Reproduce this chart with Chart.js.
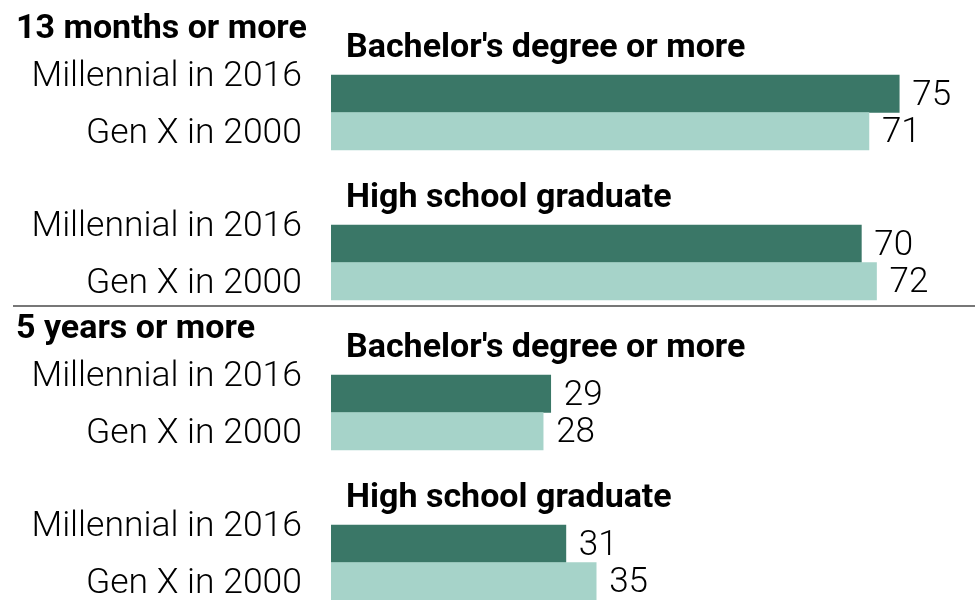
<!DOCTYPE html>
<html>
<head>
<meta charset="utf-8">
<script src="https://cdn.jsdelivr.net/npm/chart.js@4"></script>
<style>
  html, body { margin: 0; padding: 0; background: #fff; }
  #wrap { width: 975px; height: 600px; position: relative; }
</style>
</head>
<body>
<div id="wrap"><canvas id="chart"></canvas></div>
<script>
// 16 rows: two title rows, then two bar rows, per group
const rowLabels = [
    '', '', 'Millennial in 2016', 'Gen X in 2000',
    '', '', 'Millennial in 2016', 'Gen X in 2000',
    '', '', 'Millennial in 2016', 'Gen X in 2000',
    '', '', 'Millennial in 2016', 'Gen X in 2000'
];
const shares = [
    null, null, 75, 71,
    null, null, 70, 72,
    null, null, 29, 28,
    null, null, 31, 35
];
const groupTitles = ["Bachelor's degree or more", "High school graduate", "Bachelor's degree or more", "High school graduate"];
const sectionTitles = ['13 months or more', '5 years or more'];

const DARK = '#3a7767';
const LIGHT = '#a6d3c9';
const FONT = 'Roboto, "Liberation Sans", sans-serif';

const barColors = rowLabels.map(l => l.startsWith('Millennial') ? DARK : LIGHT);

const textPlugin = {
    id: 'textPlugin',
    afterDatasetsDraw(chart) {
        const ctx = chart.ctx;
        const y = chart.scales.y;
        const x = chart.scales.x;
        const half = (y.getPixelForValue(1) - y.getPixelForValue(0)) / 2;
        ctx.save();
        ctx.fillStyle = '#000';
        ctx.textBaseline = 'middle';

        // bar labels on the left and values at the bar ends
        rowLabels.forEach((label, i) => {
            if (!label) return;
            const cy = y.getPixelForValue(i);
            ctx.font = '300 35.5px ' + FONT;
            ctx.textAlign = 'right';
            const off = label.startsWith('Millennial') ? -17 : 3;
            ctx.fillText(label, 302, cy + off);
            ctx.font = '300 35px ' + FONT;
            ctx.textAlign = 'left';
            ctx.fillText(String(shares[i]), x.getPixelForValue(shares[i]) + 13, cy + 2);
        });

        // group titles above each bar pair
        ctx.textBaseline = 'alphabetic';
        ctx.font = 'bold 34px ' + FONT;
        groupTitles.forEach((t, g) => {
            const top = y.getPixelForValue(2 + g * 4) - half;
            ctx.fillText(t, 346, top - 18);
        });

        // section headings
        sectionTitles.forEach((t, s) => {
            const cy = y.getPixelForValue(2 + s * 8);
            ctx.fillText(t, 16, cy - 56);
        });

        // separator between sections
        const sepY = y.getPixelForValue(7) + half + 6;
        ctx.strokeStyle = '#777';
        ctx.lineWidth = 2;
        ctx.beginPath();
        ctx.moveTo(13, sepY);
        ctx.lineTo(975, sepY);
        ctx.stroke();
        ctx.restore();
    }
};

new Chart(document.getElementById('chart'), {
    type: 'bar',
    data: {
        labels: rowLabels.map((l, i) => l || 'row' + i),
        datasets: [{
            data: shares,
            backgroundColor: barColors,
            borderWidth: 0,
            barPercentage: 1,
            categoryPercentage: 1
        }]
    },
    options: {
        indexAxis: 'y',
        responsive: true,
        maintainAspectRatio: false,
        animation: false,
        layout: { padding: { left: 331, right: 0, top: 0, bottom: 0 } },
        scales: {
            x: { display: false, min: 0, max: 85 },
            y: { display: false }
        },
        plugins: {
            legend: { display: false },
            tooltip: { enabled: false }
        }
    },
    plugins: [textPlugin]
});
</script>
</body>
</html>
